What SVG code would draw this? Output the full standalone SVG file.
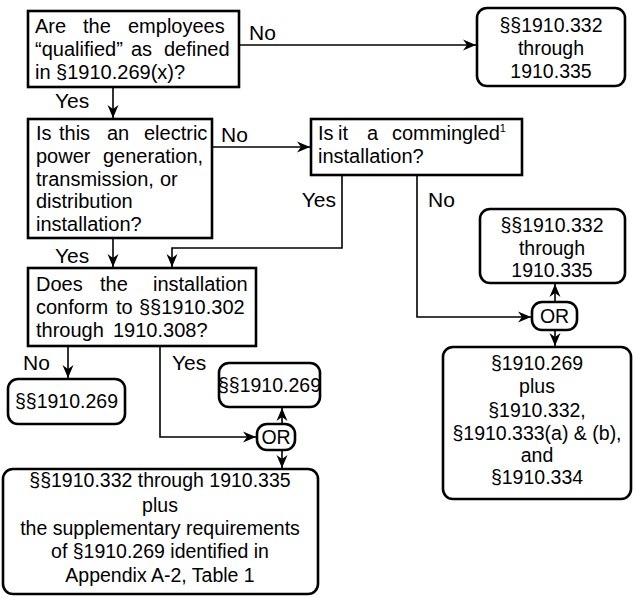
<svg xmlns="http://www.w3.org/2000/svg" width="634" height="598" viewBox="0 0 634 598">
<defs>
<style>
text{font-family:"Liberation Sans",Arial,Helvetica,sans-serif;font-size:19.5px;fill:#000}
.q text{font-size:20px}
.lbl{font-size:21px}
.c{text-anchor:middle}
.e{text-anchor:end}
.box{fill:#fff;stroke:#000;stroke-width:2.6}
.wire{fill:none;stroke:#000;stroke-width:1.6}
.sup{font-size:11px}
</style>
<marker id="ah" markerUnits="userSpaceOnUse" markerWidth="14" markerHeight="12" refX="13" refY="6" orient="auto">
<path d="M0,0.5 L13,6 L0,11.5 L4,6 z" fill="#000"/>
</marker>
</defs>
<rect width="634" height="598" fill="#fff"/>

<g id="connectors">
<path class="wire" d="M240,45 H476" marker-end="url(#ah)"/>
<path class="wire" d="M113,87 V118" marker-end="url(#ah)"/>
<path class="wire" d="M212,147 H310" marker-end="url(#ah)"/>
<path class="wire" d="M113,238 V267" marker-end="url(#ah)"/>
<path class="wire" d="M342,175 V248 H172 V267" marker-end="url(#ah)"/>
<path class="wire" d="M417,175 V317 H531" marker-end="url(#ah)"/>
<path class="wire" d="M555,302 V284" marker-end="url(#ah)"/>
<path class="wire" d="M555,330 V346" marker-end="url(#ah)"/>
<path class="wire" d="M68,346 V378" marker-end="url(#ah)"/>
<path class="wire" d="M160,346 V437 H256" marker-end="url(#ah)"/>
<path class="wire" d="M282,424 V408" marker-end="url(#ah)"/>
<path class="wire" d="M282,450 V468" marker-end="url(#ah)"/>
<text class="lbl" x="249" y="40">No</text>
<text class="lbl" x="55" y="108">Yes</text>
<text class="lbl" x="221" y="142">No</text>
<text class="lbl" x="55" y="263">Yes</text>
<text class="lbl e" x="336" y="207">Yes</text>
<text class="lbl" x="428" y="207">No</text>
<text class="lbl" x="23" y="370">No</text>
<text class="lbl" x="172" y="370">Yes</text>
</g>

<g id="q1" class="q">
<rect class="box" x="28" y="11" width="211" height="76"/>
<text y="33"><tspan x="35">Are</tspan><tspan x="83">the</tspan><tspan x="128">employees</tspan></text>
<text y="56"><tspan x="35">“qualified”</tspan><tspan x="131">as</tspan><tspan x="164">defined</tspan></text>
<text y="79" x="35">in §1910.269(x)?</text>
</g>

<g id="r1">
<rect class="box" x="477" y="8" width="148" height="78" rx="10"/>
<text class="c" x="551" y="32">§§1910.332</text>
<text class="c" x="551" y="55">through</text>
<text class="c" x="551" y="78">1910.335</text>
</g>

<g id="q2" class="q">
<rect class="box" x="28" y="119" width="184" height="119"/>
<text y="140"><tspan x="36">Is</tspan><tspan x="59">this</tspan><tspan x="107">an</tspan><tspan x="144">electric</tspan></text>
<text y="163"><tspan x="36">power</tspan><tspan x="103">generation,</tspan></text>
<text y="186"><tspan x="36">transmission,</tspan><tspan x="160">or</tspan></text>
<text y="208" x="36">distribution</text>
<text y="231" x="36">installation?</text>
</g>

<g id="q3" class="q">
<rect class="box" x="311" y="119" width="211" height="56"/>
<text y="140"><tspan x="318">Is</tspan><tspan x="338">it</tspan><tspan x="367">a</tspan><tspan x="392">commingled</tspan><tspan class="sup" dy="-8">1</tspan></text>
<text y="163" x="318">installation?</text>
</g>

<g id="q4" class="q">
<rect class="box" x="28" y="268" width="228" height="78"/>
<text y="291"><tspan x="36">Does</tspan><tspan x="100">the</tspan><tspan x="153">installation</tspan></text>
<text y="314"><tspan x="36">conform</tspan><tspan x="116">to</tspan><tspan x="139">§§1910.302</tspan></text>
<text y="337"><tspan x="36">through</tspan><tspan x="113">1910.308?</tspan></text>
</g>

<g id="r2">
<rect class="box" x="480" y="209" width="145" height="74" rx="10"/>
<text class="c" x="552" y="232">§§1910.332</text>
<text class="c" x="552" y="255">through</text>
<text class="c" x="552" y="277">1910.335</text>
</g>

<g id="or1">
<rect class="box" x="532" y="302" width="45" height="28" rx="10"/>
<text class="c" x="554.5" y="323">OR</text>
</g>

<g id="r3">
<rect class="box" x="443" y="347" width="188" height="152" rx="10"/>
<text class="c" x="537" y="370">§1910.269</text>
<text class="c" x="537" y="393">plus</text>
<text class="c" x="537" y="417">§1910.332,</text>
<text class="c" x="537" y="440">§1910.333(a) &amp; (b),</text>
<text class="c" x="537" y="462">and</text>
<text class="c" x="537" y="484">§1910.334</text>
</g>

<g id="r4">
<rect class="box" x="8" y="379" width="117" height="45" rx="10"/>
<text class="c" x="66.5" y="408">§§1910.269</text>
</g>

<g id="r5">
<rect class="box" x="219" y="363" width="101" height="44" rx="10"/>
<text class="c" x="269.5" y="392">§§1910.269</text>
</g>

<g id="or2">
<rect class="box" x="257" y="424" width="38" height="26" rx="10"/>
<text class="c" x="276" y="444">OR</text>
</g>

<g id="r6">
<rect class="box" x="3" y="469" width="315" height="125" rx="10"/>
<text class="c" x="160" y="487">§§1910.332 through 1910.335</text>
<text class="c" x="160" y="512">plus</text>
<text class="c" x="160" y="535">the supplementary requirements</text>
<text class="c" x="160" y="558">of §1910.269 identified in</text>
<text class="c" x="160" y="582">Appendix A-2, Table 1</text>
</g>
</svg>
